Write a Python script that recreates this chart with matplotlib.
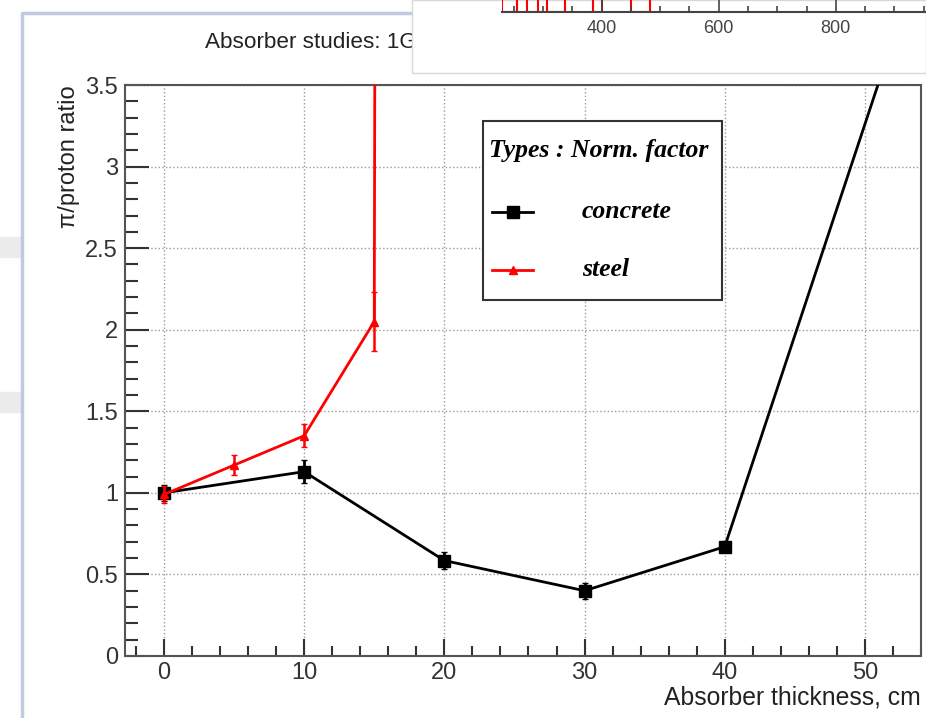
import matplotlib
matplotlib.use("Agg")
import matplotlib.pyplot as plt
from matplotlib.lines import Line2D
from matplotlib.patches import Rectangle
from matplotlib.ticker import MultipleLocator

plt.rcParams['font.family'] = ['Liberation Sans', 'DejaVu Sans']

# pi/proton ratio vs absorber thickness
concrete_x = [0, 10, 20, 30, 40, 60]
concrete_y = [1.00, 1.13, 0.585, 0.40, 0.67, 5.85]
concrete_err = [0.05, 0.07, 0.05, 0.05, 0.035, 0.0]

steel_x = [0, 5, 10, 15, 20]
steel_y = [0.99, 1.17, 1.35, 2.05, 200.0]
steel_err = [0.05, 0.06, 0.07, 0.18, 0.0]

legend_title = 'Types : Norm. factor'
legend_labels = ['concrete', 'steel']

# histogram bins peeking from the overlapping window
inset_left = [230, 272, 306, 385, 451]
inset_width = [25, 19, 31, 15, 31]
inset_ticks = [400, 600, 800]

W, H = 926, 718
fig = plt.figure(figsize=(W / 100, H / 100), dpi=100)

def fx(px):
    return px / W

def fy(py):
    return 1 - py / H

# canvas border and grey bits on the left
fig.patches.append(Rectangle((fx(0), fy(257)), fx(20), 20 / H, transform=fig.transFigure,
                             color='#ececec', zorder=0))
fig.patches.append(Rectangle((fx(0), fy(412)), fx(20), 20 / H, transform=fig.transFigure,
                             color='#ececec', zorder=0))
fig.lines.append(Line2D([fx(22), fx(22), fx(420)], [fy(718), fy(13), fy(13)],
                        transform=fig.transFigure, color='#c3c9de', lw=2.5, zorder=1))

fig.text(fx(205), fy(43), 'Absorber studies: 1GeV', fontsize=16.2, va='center', ha='left',
         color='#222222', zorder=1)

ax = fig.add_axes([fx(125), fy(656), (921 - 125) / W, (656 - 85) / H])
ax.set_xlim(-2.78, 54.0)
ax.set_ylim(0, 3.5)

ax.errorbar(concrete_x, concrete_y, yerr=concrete_err, color='black', lw=2, marker='s',
            ms=8, capsize=2, elinewidth=2, zorder=3)
ax.errorbar(steel_x, steel_y, yerr=steel_err, color='red', lw=2, marker='^',
            ms=6, capsize=2.5, elinewidth=1.8, zorder=4)

ax.xaxis.set_major_locator(MultipleLocator(10))
ax.xaxis.set_minor_locator(MultipleLocator(2))
ax.yaxis.set_major_locator(MultipleLocator(0.5))
ax.yaxis.set_minor_locator(MultipleLocator(0.1))
ax.yaxis.set_major_formatter(plt.FuncFormatter(lambda v, p: f'{v:g}'))
ax.grid(True, which='major', linestyle=':', color='#9a9a9a', lw=1)
ax.tick_params(axis='both', which='both', direction='in', colors='#333333', labelsize=17,
               width=1.5)
ax.tick_params(axis='y', which='major', length=17, pad=5)
ax.tick_params(axis='y', which='minor', length=9)
ax.tick_params(axis='x', which='major', length=12, pad=4)
ax.tick_params(axis='x', which='minor', length=7)
for s in ax.spines.values():
    s.set_color('#555555')
    s.set_linewidth(1.5)

ax.set_ylabel('π/proton ratio', fontsize=17, loc='top', color='#222222')
ax.yaxis.set_label_coords((80 - 125) / 796, 1.0)
ax.set_xlabel('Absorber thickness, cm', fontsize=17.8, loc='right', color='#222222')
ax.xaxis.set_label_coords(1.0, -(685 - 656) / 571)

# legend, ROOT style, placed by hand
lfont = dict(family='Liberation Serif', weight='bold', style='italic', size=18.5)
fig.patches.append(Rectangle((fx(483), fy(300)), fx(722 - 483), (300 - 121) / H,
                             transform=fig.transFigure, facecolor='white',
                             edgecolor='#333333', lw=1.5, zorder=5))
fig.text(fx(489), fy(150), legend_title, va='center', ha='left', zorder=6, **lfont)
styles = [dict(color='black', marker='s', ms=8), dict(color='red', marker='^', ms=6)]
for row_y, label, st in zip([212, 270], legend_labels, styles):
    fig.lines.append(Line2D([fx(492), fx(533)], [fy(row_y), fy(row_y)], lw=2,
                            color=st['color'], transform=fig.transFigure, zorder=6))
    fig.lines.append(Line2D([fx(512.5)], [fy(row_y)], transform=fig.transFigure,
                            linestyle='none', zorder=7, **st))
    fig.text(fx(582), fy(row_y), label, va='center', ha='left', zorder=6, **lfont)

# overlapping window at the top
fig.patches.append(Rectangle((fx(412), fy(73)), fx(W - 412), 73 / H, transform=fig.transFigure,
                             facecolor='white', edgecolor='#d8d8d8', lw=1, zorder=8))
iax = fig.add_axes([fx(502), fy(12), fx(W - 502), 12 / H], zorder=9)
iax.set_xlim(230, 954)
iax.set_ylim(0, 1)
iax.bar(inset_left, [2] * len(inset_left), width=inset_width, align='edge',
        facecolor='none', edgecolor='red', lw=1.5)
iax.set_facecolor('none')
for k in ['top', 'right', 'left']:
    iax.spines[k].set_visible(False)
iax.spines['bottom'].set_color('#444444')
iax.spines['bottom'].set_linewidth(1.5)
iax.set_yticks([])
iax.set_xticks(inset_ticks)
iax.xaxis.set_minor_locator(MultipleLocator(50))
iax.tick_params(axis='x', which='major', direction='in', length=9, width=1.2,
                labelsize=13, colors='#444444', pad=6)
iax.tick_params(axis='x', which='minor', direction='in', length=4, width=1.2, colors='#444444')

fig.savefig('out.png', dpi=100)
